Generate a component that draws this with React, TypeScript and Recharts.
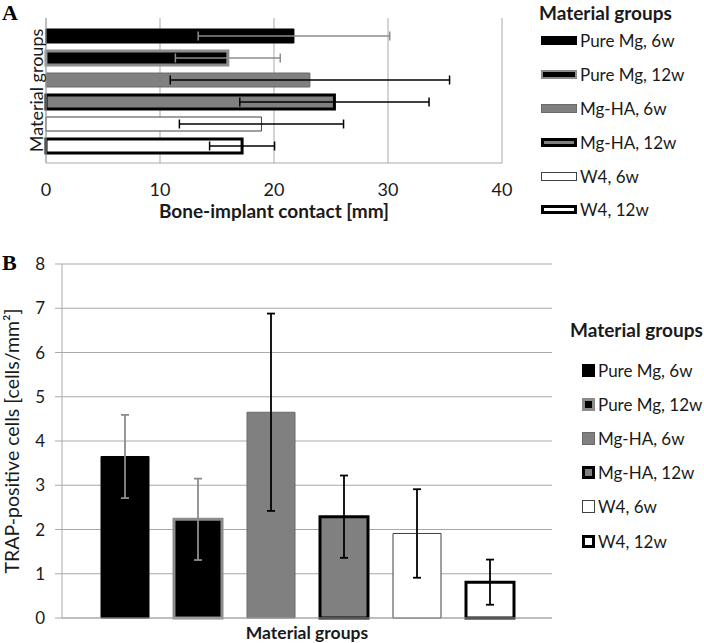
import React from "react";
import { BarChart, Bar, XAxis, YAxis, CartesianGrid, ErrorBar, Legend } from "recharts";

const GROUPS = ["Pure Mg, 6w", "Pure Mg, 12w", "Mg-HA, 6w", "Mg-HA, 12w", "W4, 6w", "W4, 12w"];

// panel A: bone-implant contact
const BIC_MEAN = [21.75, 15.95, 23.15, 25.3, 18.9, 17.2];
const BIC_ERR = [8.4, 4.6, 12.25, 8.3, 7.2, 2.85];
const BIC_TICKS = [0, 10, 20, 30, 40];

// panel B: TRAP-positive cells
const TRAP_MEAN = [3.65, 2.23, 4.65, 2.29, 1.91, 0.81];
const TRAP_ERR = [0.94, 0.92, 2.23, 0.93, 1.0, 0.51];
const TRAP_TICKS = [0, 1, 2, 3, 4, 5, 6, 7, 8];

const FONT = "Lato, 'Open Sans', sans-serif";
const GRID = "#a9a9a9";
const TEXT = "#1a1a1a";

const STYLES = [
  { fill: "#000000", stroke: "#000000", sw: 1, err: "#8c8c8c", lwA: 0, lwB: 0 },
  { fill: "#000000", stroke: "#8c8c8c", sw: 3, err: "#8c8c8c", lwA: 2, lwB: 3 },
  { fill: "#808080", stroke: "#6a6a6a", sw: 1, err: "#000000", lwA: 1, lwB: 1 },
  { fill: "#808080", stroke: "#000000", sw: 3, err: "#000000", lwA: 3, lwB: 3 },
  { fill: "#ffffff", stroke: "#404040", sw: 1, err: "#000000", lwA: 1, lwB: 1 },
  { fill: "#ffffff", stroke: "#000000", sw: 3, err: "#000000", lwA: 3, lwB: 3 },
];

const makeRow = (mean: number[], err: number[]) => {
  const row: any = { name: "Material groups" };
  mean.forEach((v, i) => {
    row[`s${i}`] = v;
    row[`e${i}`] = err[i];
  });
  return [row];
};

const bicData = makeRow(BIC_MEAN, BIC_ERR);
const trapData = makeRow(TRAP_MEAN, TRAP_ERR);

const vLabel = (text: string, cx: number, fontSize: number) => (props: any) => {
  const vb = props.viewBox || {};
  const cy = vb.y + vb.height / 2;
  return (
    <text
      x={cx}
      y={cy}
      transform={`rotate(-90, ${cx}, ${cy})`}
      textAnchor="middle"
      dominantBaseline="central"
      fontFamily={FONT}
      fontSize={fontSize}
      fill={TEXT}
    >
      {text}
    </text>
  );
};

const LegendBox = ({
  swW,
  swH,
  titleH,
  rowH,
  fontSize,
  indent,
  square,
}: {
  swW: number;
  swH: number;
  titleH: number;
  rowH: number;
  fontSize: number;
  indent: number;
  square: boolean;
}) => (
  <div style={{ fontFamily: FONT, color: TEXT }}>
    <div style={{ height: titleH, lineHeight: `${titleH}px`, fontWeight: 700, fontSize: 19, whiteSpace: "nowrap" }}>
      Material groups
    </div>
    {GROUPS.map((g, i) => {
      const st = STYLES[i];
      const bw = square ? st.lwB : st.lwA;
      return (
        <div
          key={g}
          style={{ height: rowH, display: "flex", alignItems: "center", whiteSpace: "nowrap", paddingLeft: indent }}
        >
          <span
            style={{
              display: "inline-block",
              boxSizing: "border-box",
              width: swW,
              height: swH,
              background: st.fill,
              border: bw ? `${bw}px solid ${st.stroke}` : "none",
            }}
          />
          <span style={{ marginLeft: 3, fontSize }}>{g}</span>
        </div>
      );
    })}
  </div>
);

export default function App() {
  return (
    <div style={{ position: "absolute", left: 0, top: 0, width: 704, height: 643, background: "#fff" }}>
      <div style={{ position: "absolute", left: 2, top: 0, fontFamily: "'Liberation Serif', serif", fontWeight: 700, fontSize: 22 }}>
        A
      </div>
      <div style={{ position: "absolute", left: 2, top: 250, fontFamily: "'Liberation Serif', serif", fontWeight: 700, fontSize: 22 }}>
        B
      </div>

      <div style={{ position: "absolute", left: 0, top: 0 }}>
        <BarChart
          width={704}
          height={240}
          data={bicData}
          layout="vertical"
          margin={{ top: 18, right: 202, bottom: 47, left: 0 }}
          barGap={8}
        >
          <CartesianGrid horizontal={false} stroke={GRID} />
          <XAxis
            type="number"
            domain={[0, 40]}
            ticks={BIC_TICKS}
            tickLine={false}
            tickMargin={14}
            axisLine={{ stroke: GRID }}
            height={30}
            tick={{ fontFamily: FONT, fontSize: 18, fill: TEXT }}
            label={{
              value: "Bone-implant contact [mm]",
              position: "bottom",
              offset: 12,
              fontFamily: FONT,
              fontSize: 19,
              fontWeight: 700,
              fill: TEXT,
            }}
          />
          <YAxis
            type="category"
            dataKey="name"
            width={46}
            tick={false}
            tickLine={false}
            axisLine={{ stroke: GRID }}
            label={{ content: vLabel("Material groups", 36, 18) }}
          />
          {GROUPS.map((g, i) => (
            <Bar
              key={g}
              dataKey={`s${i}`}
              name={g}
              barSize={14}
              fill={STYLES[i].fill}
              stroke={STYLES[i].stroke}
              strokeWidth={STYLES[i].sw}
              isAnimationActive={false}
            >
              <ErrorBar dataKey={`e${i}`} direction="x" width={4.5} stroke={STYLES[i].err} strokeWidth={1.5} isAnimationActive={false} />
            </Bar>
          ))}
          <Legend
            layout="vertical"
            align="center"
            verticalAlign="middle"
            wrapperStyle={{ left: 539, top: 1, width: 165 }}
            content={() => <LegendBox swW={36} swH={9} titleH={23} rowH={33.8} fontSize={17} indent={2} square={false} />}
          />
        </BarChart>
      </div>

      <div style={{ position: "absolute", left: 0, top: 250 }}>
        <BarChart
          width={704}
          height={393}
          data={trapData}
          margin={{ top: 14, right: 152, bottom: 22, left: 0 }}
          barGap={25}
        >
          <CartesianGrid vertical={false} stroke={GRID} />
          <XAxis
            type="category"
            dataKey="name"
            tick={false}
            tickLine={false}
            axisLine={{ stroke: GRID }}
            height={3}
            label={{
              value: "Material groups",
              position: "bottom",
              offset: 6,
              fontFamily: FONT,
              fontSize: 17.5,
              fontWeight: 700,
              fill: TEXT,
            }}
          />
          <YAxis
            type="number"
            domain={[0, 8]}
            ticks={TRAP_TICKS}
            width={62}
            tickSize={7}
            tickMargin={10}
            tickLine={{ stroke: GRID }}
            axisLine={{ stroke: GRID }}
            tick={{ fontFamily: FONT, fontSize: 17, fill: TEXT }}
            label={{ content: vLabel("TRAP-positive cells [cells/mm²]", 11, 19.5) }}
          />
          {GROUPS.map((g, i) => (
            <Bar
              key={g}
              dataKey={`s${i}`}
              name={g}
              barSize={48}
              fill={STYLES[i].fill}
              stroke={STYLES[i].stroke}
              strokeWidth={STYLES[i].sw}
              isAnimationActive={false}
            >
              <ErrorBar dataKey={`e${i}`} direction="y" width={4} stroke={STYLES[i].err} strokeWidth={1.8} isAnimationActive={false} />
            </Bar>
          ))}
          <Legend
            layout="vertical"
            align="center"
            verticalAlign="middle"
            wrapperStyle={{ left: 570, top: 57, width: 134 }}
            content={() => <LegendBox swW={13} swH={13} titleH={46} rowH={34.2} fontSize={17} indent={12} square={true} />}
          />
        </BarChart>
      </div>
    </div>
  );
}
